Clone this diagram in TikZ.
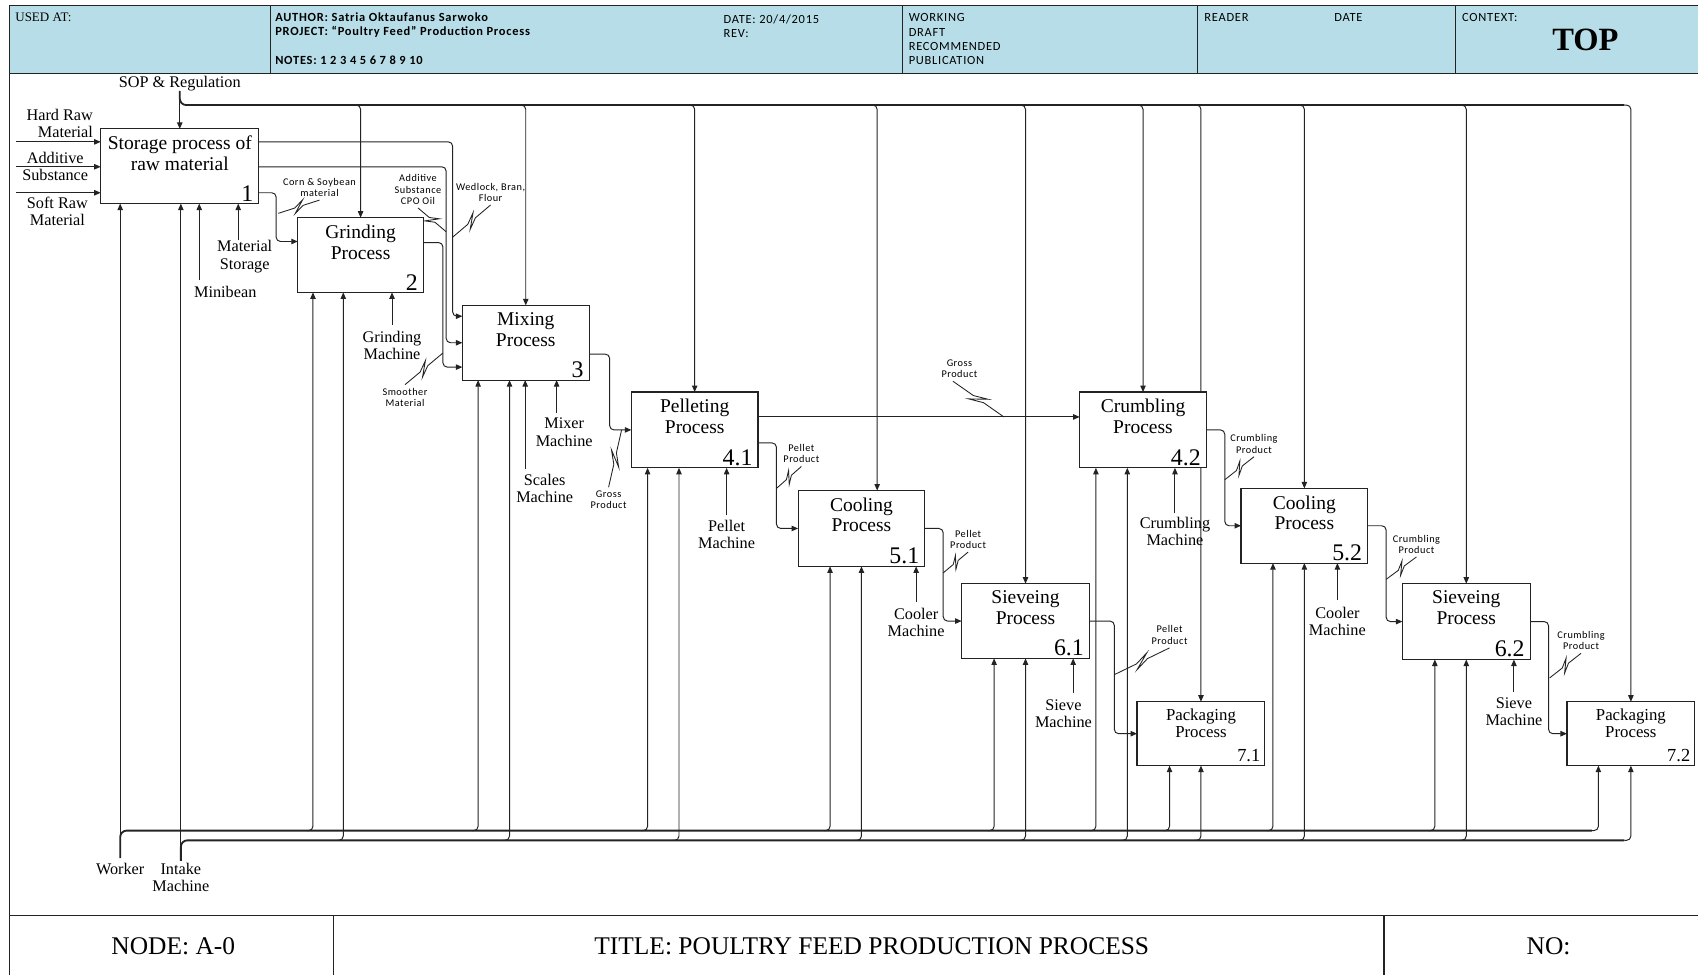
\documentclass[tikz,border=0pt]{standalone}
\usepackage{fontspec}
\setmainfont{Liberation Serif}
\newfontfamily\hdrsans[LetterSpace=6]{Carlito}
\newfontfamily\tagsans[LetterSpace=5]{Carlito}
\usetikzlibrary{arrows.meta,calc}
\definecolor{hdrblue}{RGB}{183,222,232}
\definecolor{ink}{RGB}{35,35,35}
\pgfdeclarelayer{wires}
\pgfsetlayers{wires,main}

\newcommand\setfs[2]{\fontsize{#1}{#2}\selectfont}

% activity box: name, x, y, width, height, title, number
\newcommand\procbox[7]{%
  \node[pbox, minimum width=#4pt, minimum height=#5pt] (#1) at (#2,#3) {};
  \node[ptitle] (#1-t) at ($(#1.north)+(0,6.5)$) {#6};
  \node[pnum] (#1-n) at ($(#1.south east)+(-5,-2)$) {#7};}
\newcommand\packbox[7]{%
  \node[pbox, minimum width=#4pt, minimum height=#5pt] (#1) at (#2,#3) {};
  \node[ktitle] (#1-t) at ($(#1.north)+(0,6)$) {#6};
  \node[knum] (#1-n) at ($(#1.south east)+(-4,-3)$) {#7};}

% control branch from the top bus: box, x offset from box centre
\newcommand\ctlarrow[2]{\draw[conn] ($(#1.north |- cbus)+(#2-6,0)$) -| ($(#1.north)+(#2,0)$);}
% mechanism branch from a bottom bus: box, x offset, bus
\newcommand\feedarrow[3]{\draw[conn] ($(#1.south |- #3)+(#2-6,0)$) -| ($(#1.south)+(#2,0)$);}
% squiggle joining a tag to its arrow
\newcommand\zigtag[2]{\draw[squigl] (#1) -- ($(#1)!0.4!(#2)$) -- ($(#1)!0.63!(#2)!5pt!90:(#2)$) -- ($(#1)!0.37!(#2)!5pt!-90:(#2)$) -- ($(#1)!0.6!(#2)$) -- (#2);}

\begin{document}
\begin{tikzpicture}[x=1pt,y=-1pt,
  pbox/.style={draw=ink, line width=1.1pt, fill=white, anchor=north west, inner sep=0pt, outer sep=0pt},
  ptitle/.style={font=\setfs{18}{19}, align=center, anchor=north, inner sep=0pt},
  pnum/.style={font=\setfs{22}{22}, anchor=south east, inner sep=0pt},
  ktitle/.style={font=\setfs{15.5}{16.5}, align=center, anchor=north, inner sep=0pt},
  knum/.style={font=\setfs{17}{17}, anchor=south east, inner sep=0pt},
  lbl/.style={font=\setfs{15}{16}, align=center, inner sep=0pt},
  tag/.style={font=\tagsans\setfs{9.5}{10.5}, align=center, inner sep=0pt},
  hdr/.style={font=\hdrsans\setfs{11.5}{12}, anchor=west, inner sep=0pt},
  hdrb/.style={font=\hdrsans\bfseries\setfs{11.5}{12}, anchor=west, inner sep=0pt},
  foot/.style={font=\setfs{23.5}{23.5}, inner sep=0pt},
  conn/.style={draw=ink, line width=0.9pt, rounded corners=4pt, -{Triangle[length=6pt,width=5pt]}},
  bus/.style={draw=ink, line width=1.7pt, rounded corners=6pt},
  squigl/.style={draw=ink, line width=0.8pt},
  rule/.style={draw=ink, line width=1pt}]
\useasboundingbox (0,0) rectangle (1568,900);

% sheet frame, header band and footer
\fill[hdrblue] (9,5) rectangle (1572,68);
\draw[rule] (9,905) -- (9,5) -- (1572,5);
\draw[rule] (9,68) -- (1572,68);
\foreach \x in {250,833,1106,1344} \draw[rule] (\x,5) -- (\x,68);
\draw[rule] (9,845) -- (1572,845);
\foreach \x in {308,1278} \draw[rule] (\x,845) -- (\x,905);

\node[anchor=west, inner sep=0pt, font=\setfs{12}{12}] (h-used) at (14,16) {USED AT:};
\node[hdrb] (h-author) at (254,16) {AUTHOR: Satria Oktaufanus Sarwoko};
\node[hdrb] (h-project) at (254,29) {PROJECT: “Poultry Feed” Production Process};
\node[hdrb] (h-notes) at (254,56) {NOTES: 1 2 3 4 5 6 7 8 9 10};
\node[hdr] (h-date) at (668,18) {DATE: 20/4/2015};
\node[hdr] (h-rev) at (668,31) {REV:};
\node[hdr] (h-work) at (839,16) {WORKING};
\node[hdr] (h-draft) at (839,30) {DRAFT};
\node[hdr] (h-rec) at (839,43) {RECOMMENDED};
\node[hdr] (h-pub) at (839,56) {PUBLICATION};
\node[hdr] (h-reader) at (1112,16) {READER};
\node[hdr] (h-rdate) at (1232,16) {DATE};
\node[hdr] (h-context) at (1350,16) {CONTEXT:};
\node[font=\bfseries\setfs{30}{30}, inner sep=0pt] (h-top) at (1464,37) {TOP};

\node[foot] (f-node) at (160,874) {NODE: A-0};
\node[foot] (f-title) at (805,874) {TITLE: POULTRY FEED PRODUCTION PROCESS};
\node[foot] (f-no) at (1430,874) {NO:};

% activity boxes
\procbox{b1}{93}{119}{146}{69}{Storage process of\\raw material}{1}
\procbox{b2}{275}{201}{116}{69}{Grinding\\Process}{2}
\procbox{b3}{427}{282}{117}{69}{Mixing\\Process}{3}
\procbox{b41}{583}{362}{117}{70}{Pelleting\\Process}{4.1}
\procbox{b42}{997}{362}{117}{70}{Crumbling\\Process}{4.2}
\procbox{b51}{737}{453}{117}{70}{Cooling\\Process}{5.1}
\procbox{b52}{1146}{451}{117}{69}{Cooling\\Process}{5.2}
\procbox{b61}{888}{539}{118}{69}{Sieveing\\Process}{6.1}
\procbox{b62}{1295}{539}{118}{70}{Sieveing\\Process}{6.2}
\packbox{b71}{1050}{648}{118}{59}{Packaging\\Process}{7.1}
\packbox{b72}{1447}{648}{118}{59}{Packaging\\Process}{7.2}

% boundary labels
\node[lbl] (sop) at (166,77) {SOP \& Regulation};
\node[lbl] (worker) at (111,802) {Worker};
\node[lbl] (intake) at (167,810.5) {Intake\\Machine};
\node[lbl, align=right, anchor=east] (l-hard) at (86,114) {Hard Raw\\Material};
\node[lbl] (l-add) at (51,154) {Additive\\Substance};
\node[lbl] (l-soft) at (53,195) {Soft Raw\\Material};

% mechanism labels
\node[lbl] (l-mst) at (226,237) {Material\\Storage};
\node[lbl] (l-mini) at (208,270) {Minibean};
\node[lbl] (l-grm) at (362,319) {Grinding\\Machine};
\node[lbl] (l-scm) at (503,451) {Scales\\Machine};
\node[lbl] (l-mxm) at (521,399) {Mixer\\Machine};
\node[lbl] (l-plm) at (671,493.5) {Pellet\\Machine};
\node[lbl] (l-cm1) at (846,575) {Cooler\\Machine};
\node[lbl] (l-sm1) at (982,659) {Sieve\\Machine};
\node[lbl] (l-crm) at (1085,491) {Crumbling\\Machine};
\node[lbl] (l-cm2) at (1235,574) {Cooler\\Machine};
\node[lbl] (l-sm2) at (1398,657.5) {Sieve\\Machine};

% arrow tags
\node[tag] (t-corn) at (295,173) {Corn \& Soybean\\material};
\node[tag] (t-addc) at (386,175) {Additive\\Substance\\CPO Oil};
\node[tag] (t-wed) at (453,177.5) {Wedlock, Bran,\\Flour};
\node[tag] (t-smo) at (374,367) {Smoother\\Material};
\node[tag] (t-gp1) at (562,461.5) {Gross\\Product};
\node[tag] (t-gp2) at (886,340.5) {Gross\\Product};
\node[tag] (t-pp1) at (740,419) {Pellet\\Product};
\node[tag] (t-pp2) at (894,498) {Pellet\\Product};
\node[tag] (t-pp3) at (1080,586.5) {Pellet\\Product};
\node[tag] (t-cp1) at (1158,410) {Crumbling\\Product};
\node[tag] (t-cp2) at (1308,502.5) {Crumbling\\Product};
\node[tag] (t-cp3) at (1460,591.5) {Crumbling\\Product};

% bus levels and free ends
\coordinate (cbus) at (0,97);
\coordinate (wbus) at (0,767);
\coordinate (ibus) at (0,776);
\coordinate (wtop) at ($(worker.north)+(0,-4)$);
\coordinate (itop) at ($(intake.north)+(0,-2)$);
\coordinate (in1) at (15,131);
\coordinate (in2) at (15,154);
\coordinate (in3) at (15,178);
\coordinate (m1) at (220,222);
\coordinate (m2) at (184,259);
\coordinate (m3) at (362,300);
\coordinate (m4) at (485,433);
\coordinate (m5) at (514,381);
\coordinate (m6) at (671,476);
\coordinate (m7) at (846,556);
\coordinate (m8) at (991,640);
\coordinate (m9) at (1085,474);
\coordinate (m10) at (1235,554);
\coordinate (m11) at (1398,639);

\begin{pgfonlayer}{wires}
% control bus
\draw[bus] (sop.south) |- ($(b72.north |- cbus)+(-6,0)$);
\draw[conn] (sop.south) -- (b1.north);
\ctlarrow{b2}{0}
\ctlarrow{b3}{0}
\ctlarrow{b41}{0}
\ctlarrow{b51}{14.5}
\ctlarrow{b61}{0}
\ctlarrow{b42}{0}
\ctlarrow{b71}{0}
\ctlarrow{b52}{0}
\ctlarrow{b62}{0}
\ctlarrow{b72}{0}

% worker and intake machine buses
\draw[bus] (wtop) |- ($(b72.south |- wbus)+(-36,0)$);
\draw[bus] (itop) |- ($(b72.south |- ibus)+(-6,0)$);
\draw[conn] (wtop) -- (wtop |- b1.south);
\draw[conn] (itop) -- (itop |- b1.south);
\feedarrow{b2}{-44}{wbus}  \feedarrow{b2}{-16}{ibus}
\feedarrow{b3}{-44}{wbus}  \feedarrow{b3}{-15}{ibus}
\feedarrow{b41}{-43.5}{wbus} \feedarrow{b41}{-14.5}{ibus}
\feedarrow{b42}{-43.5}{wbus} \feedarrow{b42}{-14.5}{ibus}
\feedarrow{b51}{-29}{wbus} \feedarrow{b51}{0}{ibus}
\feedarrow{b52}{-29}{wbus} \feedarrow{b52}{0}{ibus}
\feedarrow{b61}{-29}{wbus} \feedarrow{b61}{0}{ibus}
\feedarrow{b62}{-29}{wbus} \feedarrow{b62}{0}{ibus}
\feedarrow{b71}{-29}{wbus} \feedarrow{b71}{0}{ibus}
\feedarrow{b72}{-30}{wbus} \feedarrow{b72}{0}{ibus}

% machine mechanisms
\draw[conn] (m1) -- (m1 |- b1.south);
\draw[conn] (m2) -- (m2 |- b1.south);
\draw[conn] (m3) -- (m3 |- b2.south);
\draw[conn] (m4) -- (m4 |- b3.south);
\draw[conn] (m5) -- (m5 |- b3.south);
\draw[conn] (m6) -- (m6 |- b41.south);
\draw[conn] (m7) -- (m7 |- b51.south);
\draw[conn] (m8) -- (m8 |- b61.south);
\draw[conn] (m9) -- (m9 |- b42.south);
\draw[conn] (m10) -- (m10 |- b52.south);
\draw[conn] (m11) -- (m11 |- b62.south);

% raw material inputs
\draw[conn] (in1) -- (in1 -| b1.west);
\draw[conn] (in2) -- (in2 -| b1.west);
\draw[conn] (in3) -- (in3 -| b1.west);

% material flow between activities
\draw[conn] ($(b1.north east)+(0,12)$) -| ($(b3.north west)+(-9,10)$) -- ($(b3.north west)+(0,10)$);
\draw[conn] ($(b1.north east)+(0,35)$) -| ($(b3.west)+(-15,0)$) -- (b3.west);
\draw[conn] ($(b2.north east)+(0,23)$) -| ($(b3.south west)+(-18,-12)$) -- ($(b3.south west)+(0,-12)$);
\draw[conn] ($(b1.south east)+(0,-10)$) -| ($(b2.west)+(-20,-12.5)$) -- ($(b2.west)+(0,-12.5)$);
\draw[conn] ($(b3.east)+(0,10.5)$) -| ($(b41.west)+(-20,0)$) -- (b41.west);
\draw[conn] ($(b41.east)+(0,-12)$) -- ($(b42.west)+(0,-12)$);
\draw[conn] ($(b41.east)+(0,12)$) -| ($(b51.west)+(-20,0)$) -- (b51.west);
\draw[conn] (b51.east) -| ($(b61.west)+(-17,0)$) -- (b61.west);
\draw[conn] (b61.east) -| ($(b71.west)+(-21,0)$) -- (b71.west);
\draw[conn] (b42.east) -| ($(b52.west)+(-15,0)$) -- (b52.west);
\draw[conn] (b52.east) -| ($(b62.west)+(-15,0)$) -- (b62.west);
\draw[conn] (b62.east) -| ($(b72.west)+(-17,0)$) -- (b72.west);

% squiggles from tags to their arrows
\coordinate (a-corn) at ($(t-corn.south)+(0,3)$);  \coordinate (e-corn) at (257,197);
\coordinate (a-addc) at ($(t-addc.south)+(0,3)$);  \coordinate (e-addc) at (412,214);
\coordinate (a-wed) at ($(t-wed.south)+(0,3)$);    \coordinate (e-wed) at (418,219);
\coordinate (a-smo) at ($(t-smo.north)+(0,-3)$);   \coordinate (e-smo) at (409,326);
\coordinate (a-gp1) at ($(t-gp1.north)+(0,-3)$);   \coordinate (e-gp1) at (574,397);
\coordinate (a-gp2) at ($(t-gp2.south)+(-6,3)$);   \coordinate (e-gp2) at (927,385);
\coordinate (a-pp1) at ($(t-pp1.south)+(0,3)$);    \coordinate (e-pp1) at (717,451);
\coordinate (a-pp2) at ($(t-pp2.south)+(0,3)$);    \coordinate (e-pp2) at (871,529);
\coordinate (a-pp3) at ($(t-pp3.south)+(0,3)$);    \coordinate (e-pp3) at (1029,623);
\coordinate (a-cp1) at ($(t-cp1.south)+(0,3)$);    \coordinate (e-cp1) at (1131,443);
\coordinate (a-cp2) at ($(t-cp2.south)+(0,3)$);    \coordinate (e-cp2) at (1280,535);
\coordinate (a-cp3) at ($(t-cp3.south)+(0,3)$);    \coordinate (e-cp3) at (1431,626);
\zigtag{a-corn}{e-corn}
\zigtag{a-addc}{e-addc}
\zigtag{a-wed}{e-wed}
\zigtag{a-smo}{e-smo}
\zigtag{a-gp1}{e-gp1}
\zigtag{a-gp2}{e-gp2}
\zigtag{a-pp1}{e-pp1}
\zigtag{a-pp2}{e-pp2}
\zigtag{a-pp3}{e-pp3}
\zigtag{a-cp1}{e-cp1}
\zigtag{a-cp2}{e-cp2}
\zigtag{a-cp3}{e-cp3}
\end{pgfonlayer}
\end{tikzpicture}
\end{document}
